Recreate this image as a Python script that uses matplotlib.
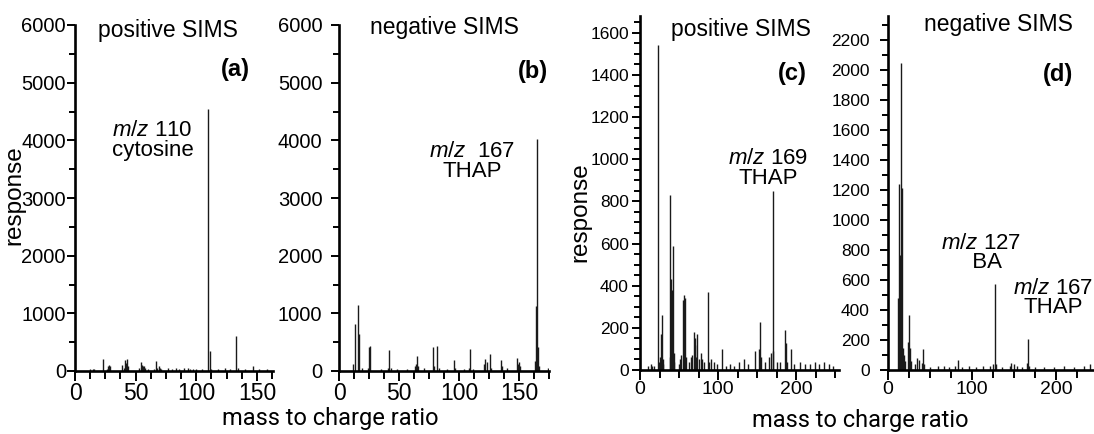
import matplotlib
matplotlib.use('Agg')
import matplotlib.pyplot as plt
from matplotlib.ticker import MultipleLocator

plt.rcParams['font.family'] = ['Liberation Sans', 'DejaVu Sans']
plt.rcParams['mathtext.fontset'] = 'custom'
plt.rcParams['mathtext.it'] = 'Liberation Sans:italic'
plt.rcParams['mathtext.rm'] = 'Liberation Sans'

# ---------------- data (m/z, response) ----------------
a_mz = [12, 15, 16, 23, 26, 27, 28, 29, 39, 40, 41, 42, 43, 44, 53, 54, 55, 56, 57, 58,
        60, 65, 67, 68, 69, 70, 71, 77, 80, 83, 86, 90, 93, 95, 97, 100, 105, 110, 111,
        112, 118, 124, 128, 133, 134, 140, 147, 152, 158]
a_int = [30, 40, 30, 200, 40, 90, 110, 90, 110, 60, 190, 140, 210, 80, 60, 150, 110, 90, 80, 50,
         30, 40, 170, 60, 80, 50, 40, 50, 40, 50, 40, 60, 50, 40, 30, 30, 40, 4550, 340,
         40, 30, 50, 40, 610, 60, 30, 80, 30, 30]

b_mz = [12, 13, 16, 17, 19, 24, 25, 26, 35, 41, 42, 43, 48, 57, 63, 64, 65, 66, 71, 78,
        79, 82, 83, 90, 96, 97, 104, 108, 109, 112, 121, 122, 123, 126, 127, 135, 136, 140,
        148, 149, 150, 151, 163, 164, 165, 166, 167, 174]
b_int = [120, 810, 1150, 640, 60, 60, 420, 440, 40, 60, 370, 60, 40, 40, 80, 130, 260, 90, 50, 410,
         80, 440, 60, 40, 190, 60, 40, 50, 380, 40, 120, 200, 150, 300, 60, 190, 80, 50,
         220, 120, 160, 90, 180, 1120, 4030, 410, 90, 60]

c_mz = [10, 14, 15, 18, 23, 24, 26, 27, 28, 29, 30, 38, 39, 40, 41, 42, 43, 44, 50, 51,
        53, 55, 56, 57, 58, 59, 63, 65, 67, 69, 70, 71, 72, 73, 75, 78, 80, 82, 87, 88,
        91, 95, 99, 105, 110, 115, 120, 127, 133, 139, 148, 152, 154, 155, 160, 166, 168,
        170, 171, 175, 180, 186, 187, 189, 193, 198, 205, 212, 218, 224, 230, 236, 242, 248]
c_int = [20, 30, 20, 20, 1540, 40, 60, 170, 260, 50, 30, 60, 830, 430, 380, 590, 80, 40, 30, 50,
         70, 330, 120, 355, 340, 60, 40, 60, 70, 180, 120, 150, 60, 170, 50, 80, 50, 40, 370, 40,
         50, 40, 30, 100, 20, 30, 20, 40, 50, 30, 90, 100, 230, 60, 40, 60, 80,
         850, 90, 40, 40, 190, 130, 40, 100, 30, 40, 30, 30, 40, 30, 40, 30, 20]

d_mz = [12, 13, 14, 15, 16, 17, 18, 19, 20, 24, 25, 26, 27, 32, 35, 37, 41, 42, 43, 50,
        60, 67, 73, 80, 83, 88, 97, 105, 113, 121, 125, 127, 128, 136, 145, 147, 150, 153,
        160, 166, 167, 168, 175, 186, 198, 210, 222, 233, 240]
d_int = [480, 1240, 770, 160, 2050, 1215, 150, 100, 60, 190, 365, 150, 60, 40, 80, 70, 50, 140, 40, 20,
         25, 30, 20, 30, 70, 20, 30, 20, 30, 30, 40, 575, 40, 20, 30, 50, 40, 30,
         20, 50, 205, 30, 20, 20, 20, 30, 20, 30, 40]

W, H = 1094, 434
fig = plt.figure(figsize=(W / 100, H / 100), dpi=100)


def add_axes(x0, ytop, x1, ybot):
    return fig.add_axes([x0 / W, 1 - ybot / H, (x1 - x0) / W, (ybot - ytop) / H])


def style(ax, xlim, ylim, xmaj, xmin, ymaj, ymin, yfs, xfs, ypad):
    ax.set_xlim(*xlim)
    ax.set_ylim(*ylim)
    ax.patch.set_alpha(0)
    for s in ['top', 'right']:
        ax.spines[s].set_visible(False)
    for s in ['left', 'bottom']:
        ax.spines[s].set_linewidth(1.9)
    ax.xaxis.set_major_locator(MultipleLocator(xmaj))
    ax.xaxis.set_minor_locator(MultipleLocator(xmin))
    ax.yaxis.set_major_locator(MultipleLocator(ymaj))
    ax.yaxis.set_minor_locator(MultipleLocator(ymin))
    ax.tick_params(axis='both', which='both', direction='out', width=1.4, color='black')
    ax.tick_params(axis='y', which='major', length=6, labelsize=yfs, pad=ypad)
    ax.tick_params(axis='y', which='minor', length=4)
    ax.tick_params(axis='x', which='major', length=7, labelsize=xfs, pad=1)
    ax.tick_params(axis='x', which='minor', length=6)


def spectrum(ax, mz, inten):
    ax.vlines(mz, 0, inten, colors='#1a1a1a', linewidth=1.0)


ax_a = add_axes(75, 25, 75 + 163 * 1.213, 371)
style(ax_a, (0, 163), (0, 6000), 50, 12.5, 1000, 500, 14.5, 16.5, 0.5)
spectrum(ax_a, a_mz, a_int)

ax_b = add_axes(339, 25, 339 + 175 * 1.2, 371)
style(ax_b, (0, 175), (0, 6000), 50, 12.5, 1000, 500, 14.5, 16.5, 6)
spectrum(ax_b, b_mz, b_int)

ax_c = add_axes(640, 16, 640 + 255 * 0.78, 370)
style(ax_c, (0, 255), (0, 1680), 100, 25, 200, 50, 12.5, 14, 2)
spectrum(ax_c, c_mz, c_int)

ax_d = add_axes(888, 16, 888 + 246 * 0.84, 370)
style(ax_d, (0, 246), (0, 2360), 100, 25, 200, 100, 12.5, 14, 7)
spectrum(ax_d, d_mz, d_int)

kw = dict(ha='center', va='center', clip_on=False, multialignment='center', linespacing=0.92)
TFS = 16.5
AFS = 16
LFS = 17

# panel (a)
ax_a.text(77, 5913, 'positive SIMS', fontsize=TFS, **kw)
ax_a.text(132, 5220, '(a)', fontsize=LFS, fontweight='bold', **kw)
ax_a.text(64, 4000, '$m/z$ 110\ncytosine', fontsize=AFS, **kw)

# panel (b)
ax_b.text(87.5, 5965, 'negative SIMS', fontsize=TFS, **kw)
ax_b.text(161.7, 5200, '(b)', fontsize=LFS, fontweight='bold', **kw)
ax_b.text(111, 3630, '$m/z$  167\nTHAP', fontsize=AFS, **kw)

# panel (c)
ax_c.text(129.5, 1614, 'positive SIMS', fontsize=TFS, **kw)
ax_c.text(195, 1405, '(c)', fontsize=LFS, fontweight='bold', **kw)
ax_c.text(164, 957, '$m/z$ 169\nTHAP', fontsize=AFS, **kw)

# panel (d)
ax_d.text(131, 2300, 'negative SIMS', fontsize=TFS, **kw)
ax_d.text(202, 1973, '(d)', fontsize=LFS, fontweight='bold', **kw)
ax_d.text(111, 780, '$m/z$ 127\n  BA', fontsize=AFS, **kw)
ax_d.text(197, 480, '$m/z$ 167\nTHAP', fontsize=AFS, **kw)

# axis labels (figure-level, shared)
fig.text(14 / W, 1 - 195 / H, 'response', rotation=90, fontsize=17.5, ha='center', va='center')
fig.text(580 / W, 1 - 212 / H, 'response', rotation=90, fontsize=17.5, ha='center', va='center')
fig.text(330 / W, 1 - 418 / H, 'mass to charge ratio', fontsize=17, ha='center', va='center',
         family=['Roboto', 'DejaVu Sans'])
fig.text(860 / W, 1 - 421 / H, 'mass to charge ratio', fontsize=17, ha='center', va='center',
         family=['Roboto', 'DejaVu Sans'])

fig.savefig('out.png', dpi=100)
